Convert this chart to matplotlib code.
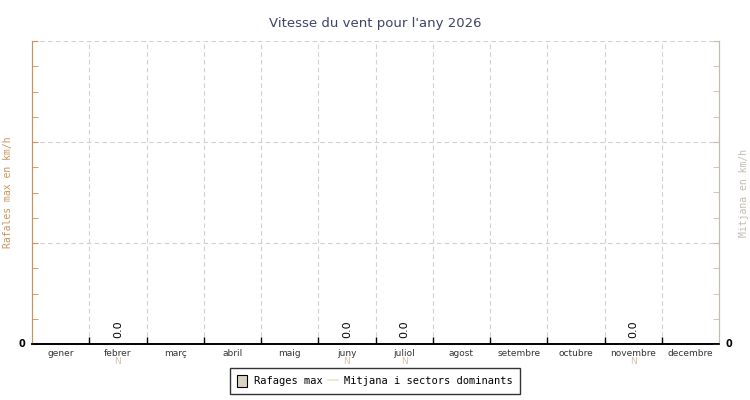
import matplotlib
matplotlib.use("Agg")
import matplotlib.pyplot as plt
from matplotlib.patches import Patch
from matplotlib.lines import Line2D
from matplotlib.ticker import MultipleLocator, FixedLocator

months = ["gener", "febrer", "març", "abril", "maig", "juny", "juliol",
          "agost", "setembre", "octubre", "novembre", "decembre"]
rafales = [None, 0.0, None, None, None, 0.0, 0.0, None, None, None, 0.0, None]
mitjana = [None, 0.0, None, None, None, 0.0, 0.0, None, None, None, 0.0, None]
sectors = ["", "N", "", "", "", "N", "N", "", "", "", "N", ""]
title = "Vitesse du vent pour l'any 2026"

TAN = "#c8945a"
GREY = "#c4bcac"

fig = plt.figure(figsize=(7.5, 4), dpi=100)
ax = fig.add_axes([32/750, 1-344/400, (719-32)/750, (344-41)/400])
ax.set_xlim(0, 12)
ax.set_ylim(0, 3)

ax.xaxis.set_major_locator(FixedLocator(list(range(1, 12))))
ax.set_xticklabels([])
ax.tick_params(axis="x", which="major", direction="in", length=5, color="black", width=1)
ax.yaxis.set_major_locator(MultipleLocator(1))
ax.yaxis.set_minor_locator(MultipleLocator(0.25))
ax.tick_params(axis="y", which="both", direction="in", length=4, color=TAN, labelleft=False)
ax.grid(True, which="major", color="#d0d0d0", linestyle=(0, (4, 3)), linewidth=0.8)
ax.set_axisbelow(True)

ax2 = ax.twinx()
ax2.set_ylim(0, 3)
ax2.yaxis.set_major_locator(MultipleLocator(1))
ax2.yaxis.set_minor_locator(MultipleLocator(0.25))
ax2.tick_params(axis="y", which="both", direction="in", length=4, color=GREY, labelright=False)

for a in (ax, ax2):
    a.spines["top"].set_visible(False)
    a.spines["left"].set_color(TAN)
    a.spines["right"].set_color(GREY)
    a.spines["bottom"].set_color("black")
    a.spines["bottom"].set_linewidth(1.2)

ax.text(-0.12, 0, "0", ha="right", va="center", fontsize=7, fontweight="bold",
        color="black", clip_on=False)
ax.text(12.12, 0, "0", ha="left", va="center", fontsize=7, fontweight="bold",
        color="black", clip_on=False)

centers = [i + 0.5 for i in range(12)]
for c, m, v, s in zip(centers, months, mitjana, sectors):
    ax.annotate(m, (c, 0), xytext=(0, -7), textcoords="offset points",
                ha="center", va="center", fontsize=6.5, color="#333333",
                annotation_clip=False)
    if s:
        ax.annotate(s, (c, 0), xytext=(0, -12.5), textcoords="offset points",
                    ha="center", va="center", fontsize=6.5, color="#d4c4a8",
                    annotation_clip=False)
    if v is not None:
        ax.annotate(f"{v:.1f}", (c, v), xytext=(0, 10.5), textcoords="offset points",
                    ha="center", va="center", rotation=90, fontsize=8,
                    color="black", annotation_clip=False)

ax.set_title(title, fontsize=9.5, color="#3c4466", pad=10)
fig.text(8/750, 0.5 * ((1-41/400) + (1-344/400)), "Rafales max en km/h",
         rotation=90, ha="center", va="center", fontsize=7,
         family="DejaVu Sans Mono", color=TAN)
fig.text(744/750, 0.5 * ((1-41/400) + (1-344/400)), "Mitjana en km/h",
         rotation=90, ha="center", va="center", fontsize=7,
         family="DejaVu Sans Mono", color=GREY)

handles = [Patch(facecolor="#dbd2c2", edgecolor="black", linewidth=0.8),
           Line2D([0], [0], color="#eadfcc", linewidth=1.2)]
leg = fig.legend(handles, ["Rafages max", "Mitjana i sectors dominants"],
                 loc="center", bbox_to_anchor=(375/750, 1-381/400), ncol=2,
                 prop={"family": "DejaVu Sans Mono", "size": 7.5},
                 frameon=True, fancybox=False, edgecolor="black",
                 handlelength=1.0, handleheight=1.4, handletextpad=0.6,
                 columnspacing=0.5, borderpad=0.7, borderaxespad=0)
leg.get_frame().set_linewidth(1.0)

fig.savefig("out.png", dpi=100)
